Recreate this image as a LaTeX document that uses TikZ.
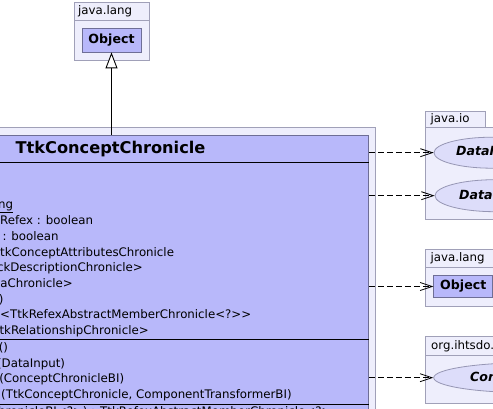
\documentclass[tikz,border=0pt]{standalone}
\usepackage{fontspec}
\setmainfont{DejaVu Sans}[Ligatures={NoCommon}]
\usetikzlibrary{arrows.meta,shapes.geometric}
\definecolor{pkgfill}{RGB}{238,238,252}
\definecolor{pkgline}{RGB}{160,160,184}
\definecolor{clsfill}{RGB}{184,184,250}
\definecolor{clsline}{RGB}{110,110,150}
\definecolor{ifill}{RGB}{221,221,250}
\definecolor{iline}{RGB}{150,150,180}
\tikzset{
  pkg/.style={draw=pkgline, fill=pkgfill, line width=0.8pt},
  clsbox/.style={draw=clsline, fill=clsfill, line width=0.8pt, inner sep=0pt},
  ifc/.style={ellipse, draw=iline, fill=ifill, line width=0.8pt, inner sep=0pt},
  txt/.style={inner sep=0pt, font=\fontsize{11.8}{14}\selectfont},
  boldtxt/.style={inner sep=0pt, font=\bfseries\fontsize{12.6}{15}\selectfont},
  itxt/.style={inner sep=0pt, font=\bfseries\itshape\fontsize{12.6}{15}\selectfont},
  mline/.style={anchor=base, inner sep=0pt, font=\fontsize{11.8}{14}\selectfont},
  sep/.style={draw=black, line width=0.9pt},
  dep/.style={draw=black, line width=0.8pt, dash pattern=on 6pt off 3pt, -{Straight Barb[length=12pt,width=8pt]}},
  inh/.style={draw=black, line width=0.9pt, -{Triangle[open,length=16pt,width=12pt,fill=white]}}
}
\begin{document}
\begin{tikzpicture}[x=1pt,y=-1pt]
\useasboundingbox (0,0) rectangle (493,409);
\fill[white] (0,0) rectangle (493,409);

% top package java.lang
\draw[pkg] (74,2) rectangle (149,20);
\draw[pkg] (74,20) rectangle (149,60);
\node[txt, anchor=west] (lblA) at (78,11.5) {java.lang};
\node[clsbox, minimum width=59pt, minimum height=24pt] (objA) at (111.5,40) {};
\node[boldtxt] (objAt) at (111.5,40) {Object};

% outer package and class
\draw[pkg] (-160,127) rectangle (375,440);
\node[clsbox, anchor=north west, minimum width=515pt, minimum height=300pt] (cls) at (-147,135) {};
\node[inner sep=0pt, font=\bfseries\fontsize{16.2}{19}\selectfont] (title) at (110.5,149) {TtkConceptChronicle};
\draw[sep] (cls.west |- 0,162) -- (cls.east |- 0,162);
\draw[sep] (cls.west |- 0,339) -- (cls.east |- 0,339);
\draw[sep] (cls.west |- 0,404.3) -- (cls.east |- 0,404.3);

% attributes
\node[mline, anchor=base east] (a1) at (13.3,208.8) {\underline{ng}};
\node[mline] (a2) at (46.6,224.6) {Refex : boolean};
\node[mline] (a3) at (30.6,240.3) {: boolean};
\node[mline] (a4) at (87.1,256) {tkConceptAttributesChronicle};
\node[mline] (a5) at (69.9,271.7) {ckDescriptionChronicle>};
\node[mline] (a6) at (36.6,287.4) {aChronicle>};
\node[mline, anchor=base east] (a7) at (3.7,303.1) {)};
\node[mline] (a8) at (125.7,318.8) {<TtkRefexAbstractMemberChronicle<?>{}>};
\node[mline] (a9) at (74.1,334.5) {tkRelationshipChronicle>};
% methods
\node[mline] (m1) at (3.4,351.5) {()};
\node[mline] (m2) at (31.1,367.2) {(DataInput)};
\node[mline] (m3) at (61.7,382.9) {(ConceptChronicleBI)};
\node[mline] (m4) at (146.4,398.6) {(TtkConceptChronicle, ComponentTransformerBI)};
\node[anchor=base west, inner sep=0pt, font=\fontsize{11.8}{14}\selectfont] (m5) at (-2,415) {hronicleBI<?>) : TtkRefexAbstractMemberChronicle<?>};

% inheritance
\draw[inh] (cls.north -| objA) -- (objA.south);

% java.io package
\draw[pkg] (425.7,111) rectangle (485.3,127);
\draw[pkg] (425.7,127) rectangle (520,219);
\node[txt, anchor=west] (lblB) at (430.5,119) {java.io};
\node[ifc, minimum width=116pt, minimum height=31pt] (e1) at (492,152.7) {};
\node[itxt, anchor=west] (e1t) at (456,152.7) {DataInput};
\node[ifc, minimum width=120pt, minimum height=32pt] (e2) at (495,195.7) {};
\node[itxt, anchor=west] (e2t) at (459,195.7) {DataOutput};

% java.lang package (right)
\draw[pkg] (425.7,249.3) rectangle (520,267.5);
\draw[pkg] (425.7,267.5) rectangle (520,306);
\node[txt, anchor=west] (lblC) at (430.5,258.4) {java.lang};
\node[clsbox, minimum width=58.5pt, minimum height=22pt] (objB) at (463,286.5) {};
\node[boldtxt, anchor=west] (objBt) at (440,286.5) {Object};

% org.ihtsdo package
\draw[pkg] (425.7,336.7) rectangle (520,355);
\draw[pkg] (425.7,355) rectangle (520,403.3);
\node[txt, anchor=west] (lblD) at (431,345.8) {org.ihtsdo.tk.api};
\node[ifc, minimum width=190pt, minimum height=30pt] (e3) at (528.7,377.7) {};
\node[itxt, anchor=west] (e3t) at (470,377.7) {ConceptChronicleBI};

% dependencies
\draw[dep] (cls.east |- e1.west) -- (e1.west);
\draw[dep] (cls.east |- e2.west) -- (e2.west);
\draw[dep] (cls.east |- objB.west) -- (objB.west);
\draw[dep] (cls.east |- e3.west) -- (e3.west);
\end{tikzpicture}
\end{document}
